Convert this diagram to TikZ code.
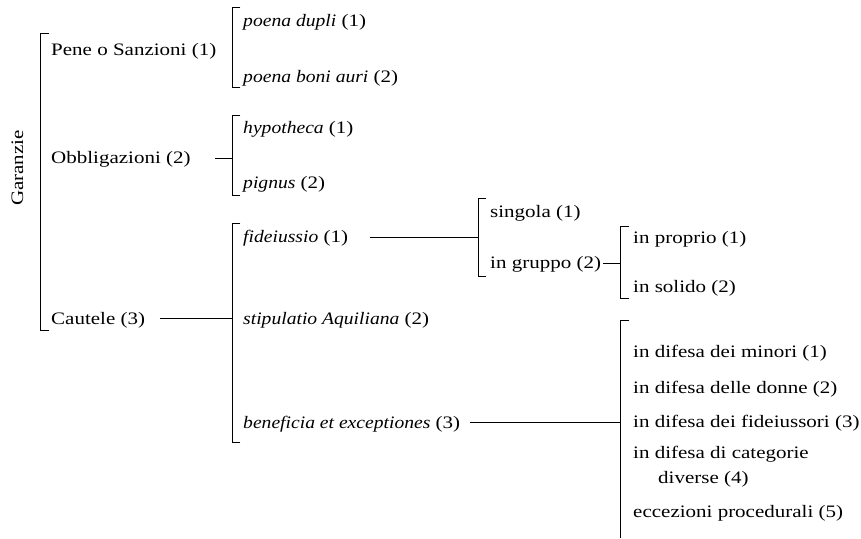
\documentclass[tikz,border=0pt]{standalone}
\usepackage{fontspec}
\setmainfont[FakeStretch=1.2, ItalicFeatures={FakeStretch=1.12}]{Liberation Serif}
\begin{document}
\begin{tikzpicture}[x=1pt,y=-1pt,
  txt/.style={anchor=base west, inner sep=0pt, font=\fontsize{17.5}{20}\selectfont},
  ln/.style={line width=0.8pt, line cap=rect}]
\useasboundingbox (0,0) rectangle (861,538);
% texts
\node[txt, rotate=90, anchor=base] (gar) at (23,168) {Garanzie};
\node[txt] (pene) at (51,55) {Pene o Sanzioni (1)};
\node[txt] (obb) at (51,163) {Obbligazioni (2)};
\node[txt] (cau) at (51,324) {Cautele (3)};
\node[txt] (pd) at (243,26) {\textit{poena dupli} (1)};
\node[txt] (pba) at (243,82) {\textit{poena boni auri} (2)};
\node[txt] (hyp) at (243,133) {\textit{hypotheca} (1)};
\node[txt] (pig) at (243,188) {\textit{pignus} (2)};
\node[txt] (fid) at (243,242) {\textit{fideiussio} (1)};
\node[txt] (sti) at (243,324) {\textit{stipulatio Aquiliana} (2)};
\node[txt] (ben) at (243,428) {\textit{beneficia et exceptiones} (3)};
\node[txt] (sin) at (490,217) {singola (1)};
\node[txt] (gru) at (490,268) {in gruppo (2)};
\node[txt] (pro) at (633,243) {in proprio (1)};
\node[txt] (sol) at (633,292) {in solido (2)};
\node[txt] (l1) at (633,357) {in difesa dei minori (1)};
\node[txt] (l2) at (633,393) {in difesa delle donne (2)};
\node[txt] (l3) at (633,427) {in difesa dei fideiussori (3)};
\node[txt] (l4) at (633,458) {in difesa di categorie};
\node[txt] (l4b) at (658,483) {diverse (4)};
\node[txt] (l5) at (633,517) {eccezioni procedurali (5)};
% bracket coordinates
\coordinate (bA1) at (40,33);  \coordinate (bA2) at (40,330);
\coordinate (bB1) at (232,7);  \coordinate (bB2) at (232,87);
\coordinate (bC1) at (232,115); \coordinate (bC2) at (232,195);
\coordinate (bD1) at (232,223); \coordinate (bD2) at (232,442);
\coordinate (bE1) at (478,198); \coordinate (bE2) at (478,276);
\coordinate (bF1) at (620,226); \coordinate (bF2) at (620,298);
\coordinate (bG1) at (620,320); \coordinate (bG2) at (620,538);
% brackets
\draw[ln] ([xshift=9pt]bA1) -- (bA1) -- (bA2) -- ([xshift=9pt]bA2);
\draw[ln] ([xshift=8pt]bB1) -- (bB1) -- (bB2) -- ([xshift=8pt]bB2);
\draw[ln] ([xshift=8pt]bC1) -- (bC1) -- (bC2) -- ([xshift=8pt]bC2);
\draw[ln] ([xshift=8pt]bD1) -- (bD1) -- (bD2) -- ([xshift=8pt]bD2);
\draw[ln] ([xshift=8pt]bE1) -- (bE1) -- (bE2) -- ([xshift=8pt]bE2);
\draw[ln] ([xshift=9pt]bF1) -- (bF1) -- (bF2) -- ([xshift=9pt]bF2);
\draw[ln] ([xshift=9pt]bG1) -- (bG1) -- (bG2);
% connectors
\coordinate (cC) at (215,158);
\coordinate (cD) at (160,318);
\coordinate (cE) at (370,237);
\coordinate (cG) at (470,422);
\draw[ln] (cC) -- (cC -| bC1);
\draw[ln] (cD) -- (cD -| bD1);
\draw[ln] (cE) -- (cE -| bE1);
\draw[ln] ([xshift=2pt,yshift=5pt]gru.base east) -- ([yshift=5pt]gru.base east -| bF1);
\draw[ln] (cG) -- (cG -| bG1);
\end{tikzpicture}
\end{document}
